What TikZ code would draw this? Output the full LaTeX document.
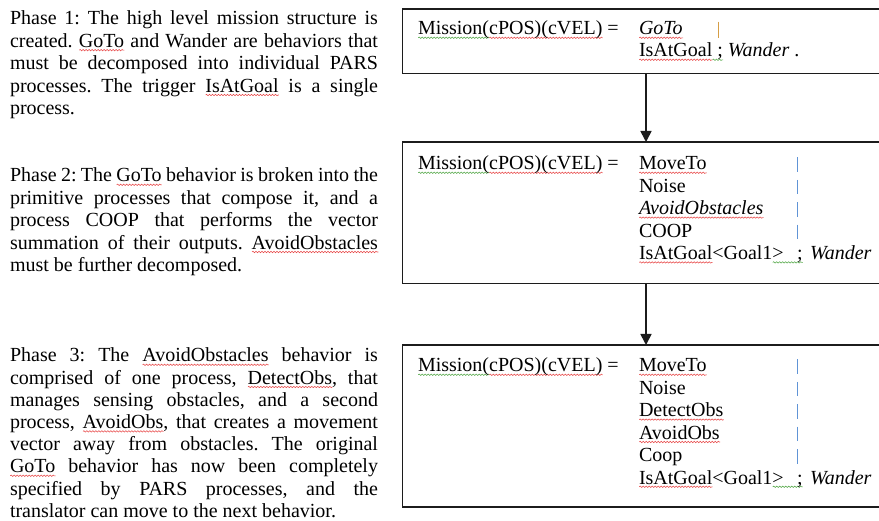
\documentclass[tikz,border=0pt]{standalone}
\usepackage{fontspec}
\setmainfont{Liberation Serif}
\usetikzlibrary{arrows.meta,decorations.pathmorphing}

\definecolor{sqred}{RGB}{232,72,72}
\definecolor{sqgreen}{RGB}{84,168,72}
\definecolor{barorange}{RGB}{214,158,70}
\definecolor{barblue}{RGB}{96,148,214}
\definecolor{framegray}{RGB}{28,28,28}

% wavy proofing underline under a word
\newsavebox{\wavebox}
\newcommand\wavy[2]{\leavevmode\sbox{\wavebox}{#2}%
  \rlap{\tikz[baseline=0pt]\draw[#1,line width=0.55pt,decorate,
    decoration={snake,amplitude=0.7pt,segment length=3pt}]
    (0pt,-2.8pt) -- (\the\wd\wavebox,-2.8pt);}%
  \usebox{\wavebox}}
\newcommand\sqr[1]{\wavy{sqred}{#1}}
\newcommand\sqg[1]{\wavy{sqgreen}{#1}}

\frenchspacing
\tolerance=10000
\pretolerance=10000
\hyphenpenalty=10000

\tikzset{
  para/.style={anchor=base west, inner sep=0pt, outer sep=0pt,
    text width=368pt, align=justify, font=\fontsize{20}{22.4}\selectfont},
  txt/.style={anchor=base west, inner sep=0pt, outer sep=0pt,
    font=\fontsize{20}{22.4}\selectfont},
  panel/.style={draw=framegray, line width=1.6pt, anchor=north west,
    inner sep=0pt, outer sep=0pt, minimum width=520pt},
  flow/.style={draw=framegray, line width=1.6pt,
    -{Triangle[width=11pt,length=11pt]}},
  orbar/.style={draw=barorange, line width=1.4pt},
  blbar/.style={draw=barblue, line width=1.4pt},
}

\begin{document}
\begin{tikzpicture}[x=1pt,y=-1pt]
\useasboundingbox (0,0) rectangle (879,521);
\fill[white] (0,0) rectangle (879,521);
\clip (0,0) rectangle (879,521);

% ---- explanations on the left ----
\node[para] (p1) at (10,25) {Phase 1: The high level mission structure is\linebreak
created. \sqr{GoTo} and Wander are behaviors that\linebreak
must be decomposed into individual PARS\linebreak
processes. The trigger \sqr{IsAtGoal} is a single\linebreak
process.};

\node[para] (p2) at (10,182) {Phase 2: The \sqr{GoTo} behavior is broken into the\linebreak
primitive processes that compose it, and a\linebreak
process COOP that performs the vector\linebreak
summation of their outputs. \sqr{AvoidObstacles}\linebreak
must be further decomposed.};

\node[para, font=\fontsize{20}{22.2}\selectfont] (p3) at (10,362) {Phase 3: The \sqr{AvoidObstacles} behavior is\linebreak
comprised of one process, \sqr{DetectObs}, that\linebreak
manages sensing obstacles, and a second\linebreak
process, \sqr{AvoidObs}, that creates a movement\linebreak
vector away from obstacles. The original\linebreak
\sqr{GoTo} behavior has now been completely\linebreak
specified by PARS processes, and the\linebreak
translator can move to the next behavior.};

% ---- mission panels ----
\node[panel, minimum height=64.5pt]  (box1) at (402.5,9) {};
\node[panel, minimum height=141.5pt] (box2) at (402.5,142) {};
\node[panel, minimum height=162pt]   (box3) at (402.5,345) {};

\coordinate (ax) at (646,0);
\draw[flow] (ax |- box1.south) -- (ax |- box2.north);
\draw[flow] (ax |- box2.south) -- (ax |- box3.north);

% panel 1
\node[txt] (m1) at (418,35) {\sqg{Mission(}\sqr{cPOS)(cVEL)} =};
\node[txt] (a1) at (639,35) {\sqr{\textit{GoTo}}};
\node[txt] (a2) at (639,57) {\sqr{IsAtGoal}\sqg{\ ;} \textit{Wander} .};
\draw[orbar] (718.3,21.7) -- (718.3,38.3);

% panel 2
\node[txt] (m2) at (418,170) {\sqg{Mission(}\sqr{cPOS)(cVEL)} =};
\node[txt] (b1) at (639,170)   {\sqr{MoveTo}};
\node[txt] (b2) at (639,192.4) {Noise};
\node[txt] (b3) at (639,214.8) {\sqr{\textit{AvoidObstacles}}};
\node[txt] (b4) at (639,237.2) {COOP};
\node[txt] (b5) at (639,259.6) {\sqr{IsAtGoal}<Goal1\sqg{>\hspace*{13.3pt};}\hspace*{7.4pt}\textit{Wander}};
\foreach \yb in {170,192.4,214.8,237.2}
  \draw[blbar] (797.7,\yb-12.5) -- (797.7,\yb+2);

% panel 3
\node[txt] (m3) at (418,372) {\sqg{Mission(}\sqr{cPOS)(cVEL)} =};
\node[txt] (c1) at (639,372)   {\sqr{MoveTo}};
\node[txt] (c2) at (639,394.4) {Noise};
\node[txt] (c3) at (639,416.8) {\sqr{DetectObs}};
\node[txt] (c4) at (639,439.2) {\sqr{AvoidObs}};
\node[txt] (c5) at (639,461.6) {Coop};
\node[txt] (c6) at (639,484)   {\sqr{IsAtGoal}<Goal1\sqg{>\hspace*{13.3pt};}\hspace*{7.4pt}\textit{Wander}};
\foreach \yb in {372,394.4,416.8,439.2,461.6}
  \draw[blbar] (797.7,\yb-12.5) -- (797.7,\yb+2);
\end{tikzpicture}
\end{document}
